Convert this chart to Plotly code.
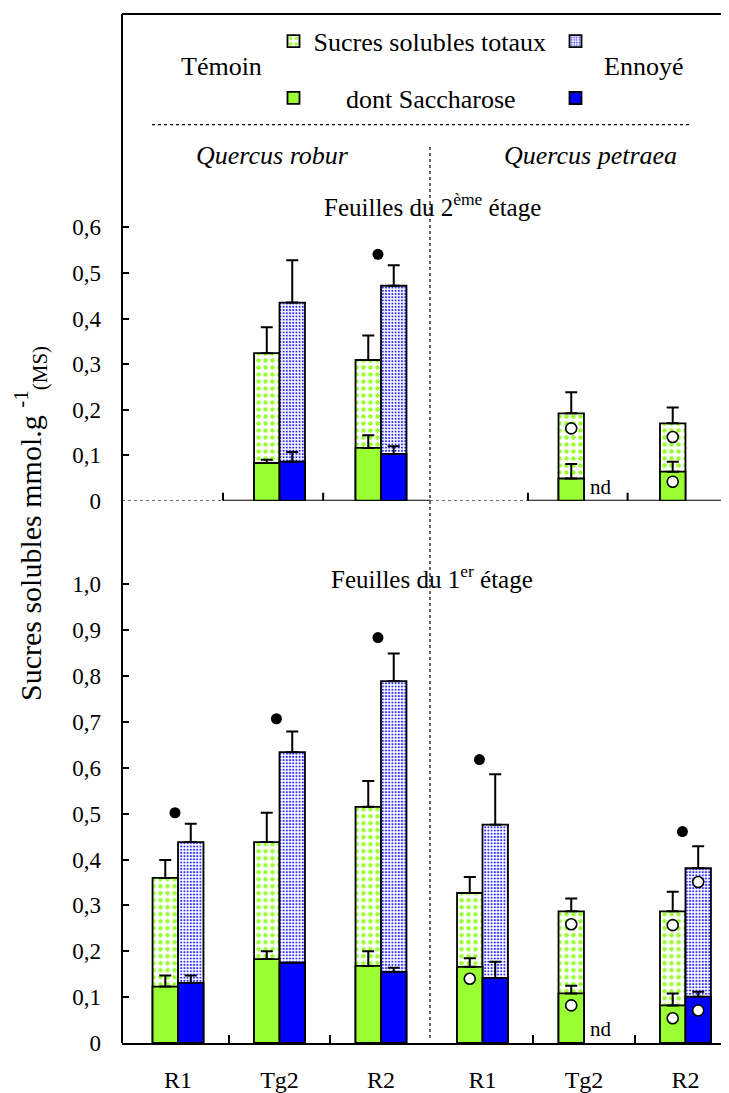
import numpy as np
import plotly.graph_objects as go

# ---------------- data ----------------
groups = ["R1", "Tg2", "R2", "R1", "Tg2", "R2"]

# Feuilles du 2ème étage (top panel)
temoin_total_2 = [None, 0.324, 0.309, None, 0.192, 0.170]
temoin_total_2_err = [None, 0.057, 0.054, None, 0.046, 0.035]
temoin_sacch_2 = [None, 0.083, 0.116, None, 0.049, 0.064]
temoin_sacch_2_err = [None, 0.007, 0.028, None, 0.032, 0.022]
ennoye_total_2 = [None, 0.435, 0.472, None, None, None]
ennoye_total_2_err = [None, 0.093, 0.045, None, None, None]
ennoye_sacch_2 = [None, 0.086, 0.103, None, None, None]
ennoye_sacch_2_err = [None, 0.021, 0.017, None, None, None]

# Feuilles du 1er étage (bottom panel)
temoin_total_1 = [0.360, 0.438, 0.515, 0.327, 0.287, 0.287]
temoin_total_1_err = [0.039, 0.064, 0.056, 0.035, 0.028, 0.043]
temoin_sacch_1 = [0.123, 0.183, 0.168, 0.166, 0.108, 0.082]
temoin_sacch_1_err = [0.024, 0.017, 0.032, 0.019, 0.017, 0.026]
ennoye_total_1 = [0.438, 0.634, 0.789, 0.476, None, 0.381]
ennoye_total_1_err = [0.040, 0.045, 0.060, 0.110, None, 0.048]
ennoye_sacch_1 = [0.131, 0.175, 0.155, 0.142, None, 0.101]
ennoye_sacch_1_err = [0.016, None, 0.009, 0.035, None, 0.011]

# significance markers (filled dots) and open circles
dot_1 = [0.502, 0.707, 0.884, 0.618, None, 0.461]
dot_2 = [None, None, 0.541, None, None, None]
circ_temoin_total_1 = [None, None, None, None, 0.259, 0.257]
circ_temoin_sacch_1 = [None, None, None, 0.140, 0.082, 0.054]
circ_ennoye_total_1 = [None, None, None, None, None, 0.351]
circ_ennoye_sacch_1 = [None, None, None, None, None, 0.071]
circ_temoin_total_2 = [None, None, None, None, 0.159, 0.140]
circ_temoin_sacch_2 = [None, None, None, None, None, 0.042]

nd_1 = [4]
nd_2 = [4]

yticks_1 = [0, 0.1, 0.2, 0.3, 0.4, 0.5, 0.6, 0.7, 0.8, 0.9, 1.0]
yticks_2 = [0, 0.1, 0.2, 0.3, 0.4, 0.5, 0.6]

# ---------------- style ----------------
FONT = "Liberation Serif"
GREEN = "#99ff33"
BLUE = "#0000ff"
W = 0.251
x = np.arange(len(groups))

pat_green = dict(shape=".", fgcolor=GREEN, bgcolor="white", size=7, solidity=0.33, fillmode="replace")
pat_blue = dict(shape=".", fgcolor="#2a2aff", bgcolor="white", size=3.2, solidity=0.35, fillmode="replace")


def lab(v):
    return ("%.1f" % v).replace(".", ",") if v != 0 else "0"


def err(a):
    return dict(type="data", symmetric=False, array=a, arrayminus=[0] * len(a),
                color="black", thickness=2, width=6)


fig = go.Figure()
NBSP = "\u00a0"


def add_panel(yax, tt, tte, ts, tse, et, ete, es, ese, show):
    fig.add_trace(go.Bar(x=x, y=tt, width=W, offset=-W, yaxis=yax, error_y=err(tte),
                         marker=dict(color="white", pattern=pat_green, line=dict(color="black", width=1.8)),
                         name="Sucres solubles totaux", showlegend=show, legend="legend"))
    fig.add_trace(go.Bar(x=x, y=et, width=W, offset=0, yaxis=yax, error_y=err(ete),
                         marker=dict(color="white", pattern=pat_blue, line=dict(color="black", width=1.8)),
                         name=" ", showlegend=show, legend="legend3"))
    fig.add_trace(go.Bar(x=x, y=ts, width=W, offset=-W, yaxis=yax, error_y=err(tse),
                         marker=dict(color=GREEN, line=dict(color="black", width=1.8)),
                         name=NBSP * 5 + "dont Saccharose", showlegend=show, legend="legend2"))
    fig.add_trace(go.Bar(x=x, y=es, width=W, offset=0, yaxis=yax, error_y=err(ese),
                         marker=dict(color=BLUE, line=dict(color="black", width=1.8)),
                         name=" ", showlegend=show, legend="legend4"))


add_panel("y2", temoin_total_2, temoin_total_2_err, temoin_sacch_2, temoin_sacch_2_err,
          ennoye_total_2, ennoye_total_2_err, ennoye_sacch_2, ennoye_sacch_2_err, False)
add_panel("y", temoin_total_1, temoin_total_1_err, temoin_sacch_1, temoin_sacch_1_err,
          ennoye_total_1, ennoye_total_1_err, ennoye_sacch_1, ennoye_sacch_1_err, True)

dot_style = dict(size=11, color="black")
open_style = dict(size=11, color="white", line=dict(color="black", width=1.6))
for yax, vals in (("y", dot_1), ("y2", dot_2)):
    fig.add_trace(go.Scatter(x=x - 0.03, y=vals, yaxis=yax, mode="markers", marker=dot_style,
                             showlegend=False, cliponaxis=False))
for yax, vals, dx in (("y", circ_temoin_total_1, -W / 2), ("y", circ_temoin_sacch_1, -W / 2),
                      ("y", circ_ennoye_total_1, W / 2), ("y", circ_ennoye_sacch_1, W / 2),
                      ("y2", circ_temoin_total_2, -W / 2), ("y2", circ_temoin_sacch_2, -W / 2)):
    fig.add_trace(go.Scatter(x=x + dx, y=vals, yaxis=yax, mode="markers", marker=open_style,
                             showlegend=False, cliponaxis=False))

# ---------------- layout ----------------
# page is drawn with an 8px body margin: compensate so that page pixels match the reference
OFF = 8
PL, PT, PB = 122, 14, 1055          # plot area edges in page pixels
PW, PH = 729 - PL, PB - PT
FW, FH = 729 - OFF, 1093 - OFF


def px(v):
    return (v - PL) / PW


def py(v):
    return (PB - v) / PH


XR = [-0.552, 5.429]
fig.update_layout(
    width=FW, height=FH, margin=dict(l=PL - OFF, r=0, t=PT - OFF, b=FH - (PB - OFF), pad=0),
    paper_bgcolor="white", plot_bgcolor="white", barmode="overlay",
    font=dict(family=FONT, color="black", size=23),
    xaxis=dict(range=XR, domain=[0, 1], anchor="y", showline=True, linecolor="black", linewidth=2,
               showgrid=False, zeroline=False, tickmode="array", tickvals=list(x), ticktext=groups,
               ticks="", ticklabelstandoff=14, tickfont=dict(size=24, family=FONT),
               minor=dict(tickmode="array", tickvals=[0.5, 1.5, 3.5, 4.5], ticks="inside",
                          ticklen=8, tickwidth=2, tickcolor="black")),
    yaxis=dict(domain=[0, py(560)], range=[0, (1055 - 560) / 464], anchor="x", showline=False,
               showgrid=False, zeroline=False, tickmode="array", tickvals=yticks_1,
               ticktext=[lab(v) for v in yticks_1], ticks="inside", ticklen=7, tickwidth=2,
               tickcolor="black", ticklabelstandoff=20, tickfont=dict(size=23, family=FONT)),
    yaxis2=dict(domain=[py(506.5), 1], range=[0, (506.5 - 14) / 461], anchor="x", showline=False,
                showgrid=False, zeroline=False, tickmode="array", tickvals=yticks_2,
                ticktext=[lab(v) for v in yticks_2], ticks="inside", ticklen=7, tickwidth=2,
                tickcolor="black", ticklabelstandoff=20, tickfont=dict(size=23, family=FONT)),
)

leg = dict(xanchor="left", yanchor="middle", bgcolor="rgba(0,0,0,0)", borderwidth=0,
           font=dict(size=26, family=FONT, color="black"), itemwidth=30)
leg_blank = dict(leg, font=dict(size=10, family=FONT))
fig.update_layout(
    legend=dict(leg, x=px(273.5), y=py(41.5)),
    legend2=dict(leg, x=px(273.5), y=py(99)),
    legend3=dict(leg_blank, x=px(555.5), y=py(41.5)),
    legend4=dict(leg_blank, x=px(555.5), y=py(99)),
)

shapes = []
# frame (left axis line and top border)
shapes.append(dict(type="line", xref="paper", yref="paper", x0=0, x1=0, y0=0, y1=1,
                   line=dict(color="black", width=2)))
shapes.append(dict(type="line", xref="paper", yref="paper", x0=0, x1=1, y0=1, y1=1,
                   line=dict(color="black", width=2)))
# dotted separator in legend area
shapes.append(dict(type="line", xref="paper", yref="paper", x0=px(152), x1=px(692), y0=py(126), y1=py(126),
                   line=dict(color="black", width=1.2, dash="dot")))
# vertical dotted separator between species
shapes.append(dict(type="line", xref="x", yref="paper", x0=2.483, x1=2.483, y0=py(1050), y1=py(148),
                   line=dict(color="black", width=1.2, dash="dot")))
# top panel baseline
for a, b, d in ((XR[0], 0.443, "dot"), (0.443, 2.483, "solid"), (2.483, 3.448, "dot"), (3.448, XR[1], "solid")):
    shapes.append(dict(type="line", xref="x", yref="y2", x0=a, x1=b, y0=0, y1=0,
                       line=dict(color="black", width=2 if d == "solid" else 1.2, dash=d)))
for t in (0.443, 1.43, 3.448, 4.43):
    shapes.append(dict(type="line", xref="x", yref="y2", x0=t, x1=t, ysizemode="pixel", yanchor=0,
                       y0=0, y1=8, line=dict(color="black", width=2)))
fig.update_layout(shapes=shapes)

ann = []


def text(xp, yp, s, size=26, **kw):
    ann.append(dict(xref="paper", yref="paper", x=px(xp), y=py(yp), text=s, showarrow=False,
                    font=dict(size=size, family=FONT, color="black"), xanchor="center", yanchor="middle", **kw))


text(221, 67, "Témoin", 26)
text(643, 67, "Ennoyé", 26)
text(272, 157, "<i>Quercus robur</i>", 26)
text(590, 157, "<i>Quercus petraea</i>", 26)
text(432, 207, "Feuilles du 2<sup>ème</sup> étage", 25)
text(432, 584, "Feuilles du 1<sup>er</sup> étage", 25)
ann.append(dict(xref="paper", yref="paper", x=px(30), y=py(530), textangle=-90, showarrow=False,
                text="Sucres solubles mmol.g <sup>-1</sup><sub>(MS)</sub>",
                font=dict(size=30, family=FONT, color="black"), xanchor="center", yanchor="middle"))
for yr, idxs in (("y", nd_1), ("y2", nd_2)):
    for i in idxs:
        ann.append(dict(xref="x", yref=yr, x=x[i] + 0.035, y=0, text="nd", showarrow=False,
                        xanchor="left", yanchor="bottom", font=dict(size=21, family=FONT, color="black")))
fig.update_layout(annotations=ann)

fig.write_html("out.html")
